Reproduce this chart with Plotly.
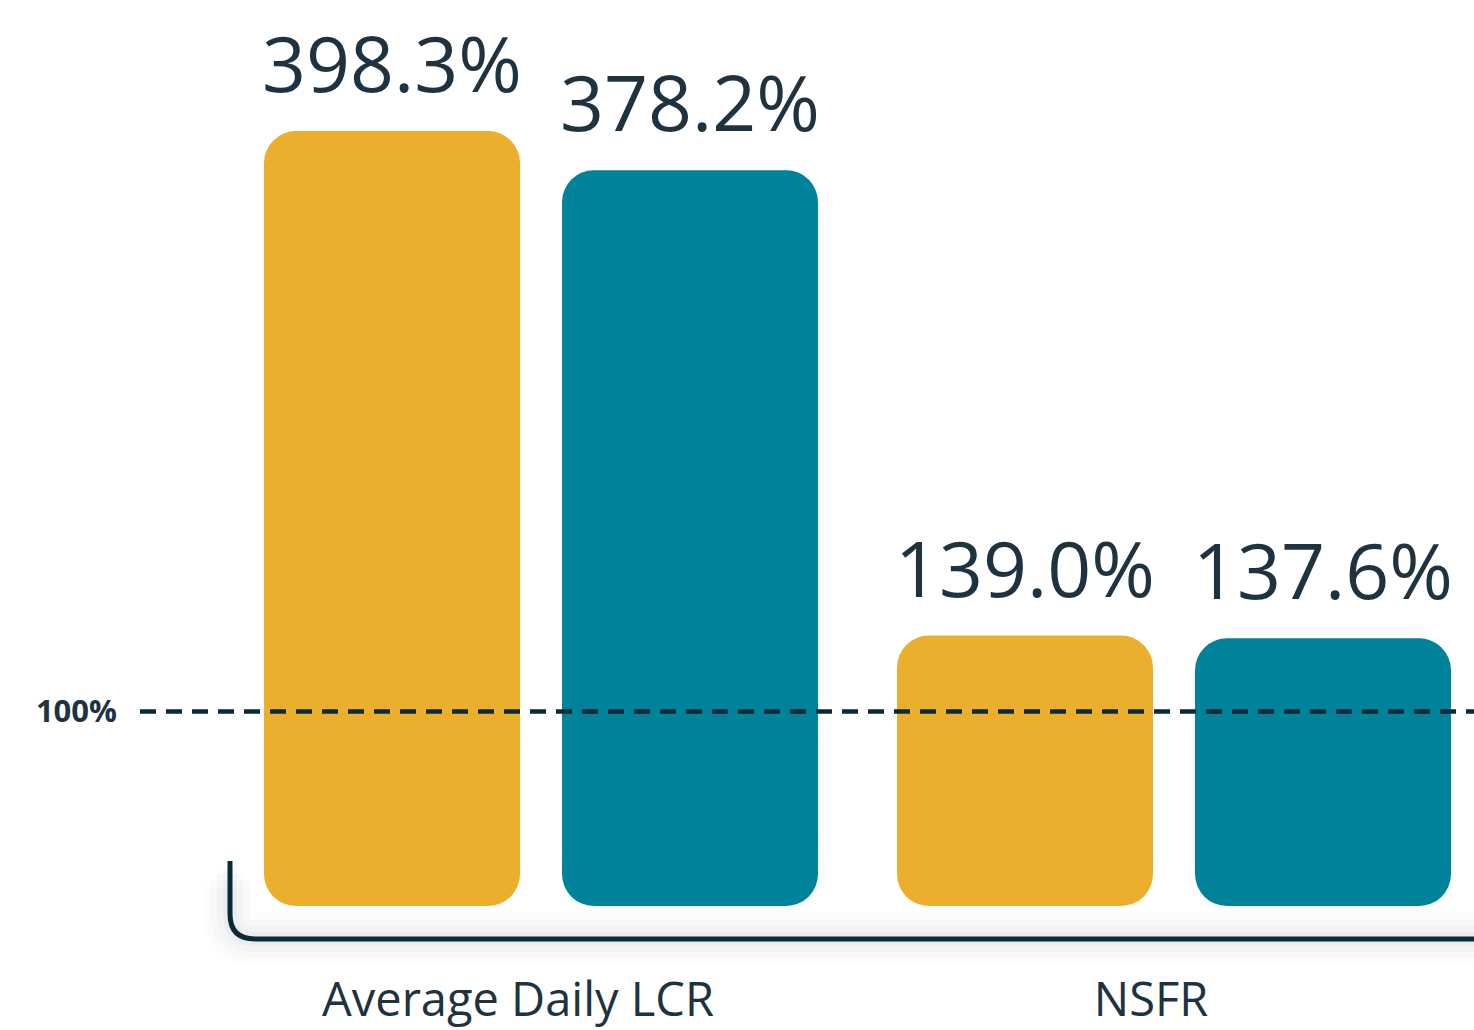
import plotly.graph_objects as go

categories = ["Average Daily LCR", "NSFR"]
series_names = ["Current year", "Prior year"]
gold_values = [398.3, 139.0]
teal_values = [378.2, 137.6]
threshold = 100
threshold_label = "100%"

GOLD = "#EBAF2D"
TEXT = "#1E3240"
TEAL = "#00829A"
NAVY = "#0B2A38"

W, H = 1474, 1030
ML, MR, MT, MB = 224, 0, 20, 122
PW, PH = W - ML - MR, H - MT - MB
PX_PER_UNIT = 1.95
Y_MAX = PH / PX_PER_UNIT
CAT_PX = 633.0
# half-pixel shift so bar edges land on whole pixels
X_RANGE = [-0.5 - 0.5 / CAT_PX, -0.5 - 0.5 / CAT_PX + PW / CAT_PX]

BAR_W = 256 / CAT_PX
GAP = 42 / CAT_PX
offsets = [-(BAR_W + GAP / 2), GAP / 2]
SPLIT_TOP = 20    # upper piece starts here
SPLIT_BOT = 100   # lower piece ends here (overlap hides the seam)

fig = go.Figure()
for vals, color, off, name in [(gold_values, GOLD, offsets[0], series_names[0]),
                                (teal_values, TEAL, offsets[1], series_names[1])]:
    # lower piece (rounded bottom corners)
    fig.add_trace(go.Bar(
        x=categories, y=[-min(SPLIT_BOT, v) for v in vals], base=[min(SPLIT_BOT, v) for v in vals],
        width=BAR_W, offset=off, marker=dict(color=color, line=dict(width=0)),
        hoverinfo="skip", showlegend=False))
    # upper piece (rounded top corners)
    fig.add_trace(go.Bar(
        x=categories, y=[v - SPLIT_TOP for v in vals], base=[SPLIT_TOP] * len(vals),
        width=BAR_W, offset=off, marker=dict(color=color, line=dict(width=0)),
        name=name, customdata=vals, hovertemplate="%{x}: %{customdata:.1f}%<extra></extra>",
        showlegend=False))
    for i, v in enumerate(vals):
        fig.add_annotation(x=i + off + BAR_W / 2, y=v, xref="x", yref="y",
                           text=f"{v:.1f}%", showarrow=False, yanchor="bottom",
                           yshift=14, font=dict(family="Open Sans", size=77, color=TEXT))

# bracket axis shadow + line (paper coords)
def px2paper(px, py):
    return (px - ML) / PW, (H - MB - py) / PH

def bracket_path(top):
    pts = [(230, top), (230, 916), (230, 941), (255, 941), (1500, 941)]
    p = [px2paper(*q) for q in pts]
    return (f"M {p[0][0]},{p[0][1]} L {p[1][0]},{p[1][1]} "
            f"Q {p[2][0]},{p[2][1]} {p[3][0]},{p[3][1]} L {p[4][0]},{p[4][1]}")

for w, a in [(52, 0.016), (38, 0.02), (26, 0.026), (14, 0.032)]:
    fig.add_shape(type="path", path=bracket_path(863 + w / 2), xref="paper", yref="paper",
                  line=dict(color=f"rgba(40,60,80,{a})", width=w), layer="below")
fig.add_shape(type="path", path=bracket_path(863), xref="paper", yref="paper",
              line=dict(color=NAVY, width=5), layer="above")

# threshold dashed line
x0p, _ = px2paper(140, 0)
fig.add_shape(type="line", xref="paper", yref="y", x0=x0p, x1=1.02, y0=threshold, y1=threshold,
              line=dict(color=NAVY, width=4.5, dash="16px,10px"), layer="above")

fig.update_layout(
    width=W, height=H, barmode="overlay", barcornerradius=32,
    margin=dict(l=ML, r=MR, t=MT, b=MB),
    paper_bgcolor="white", plot_bgcolor="white",
    font=dict(family="Open Sans", color=TEXT),
    xaxis=dict(range=X_RANGE, showgrid=False, zeroline=False, showline=False, ticks="",
               tickfont=dict(family="Open Sans", size=47, color=TEXT),
               ticklabelstandoff=62, ticklabelshift=-23),
    yaxis=dict(range=[0, Y_MAX], showgrid=False, zeroline=False, showline=False, ticks="",
               tickvals=[threshold], ticktext=[f"<b>{threshold_label}</b>"],
               tickfont=dict(family="Open Sans", size=31, color=TEXT),
               ticklabelstandoff=106),
)
fig.write_html("out.html", config={"displayModeBar": False},
               post_script="document.body.style.margin='0';document.body.style.overflow='hidden';")
